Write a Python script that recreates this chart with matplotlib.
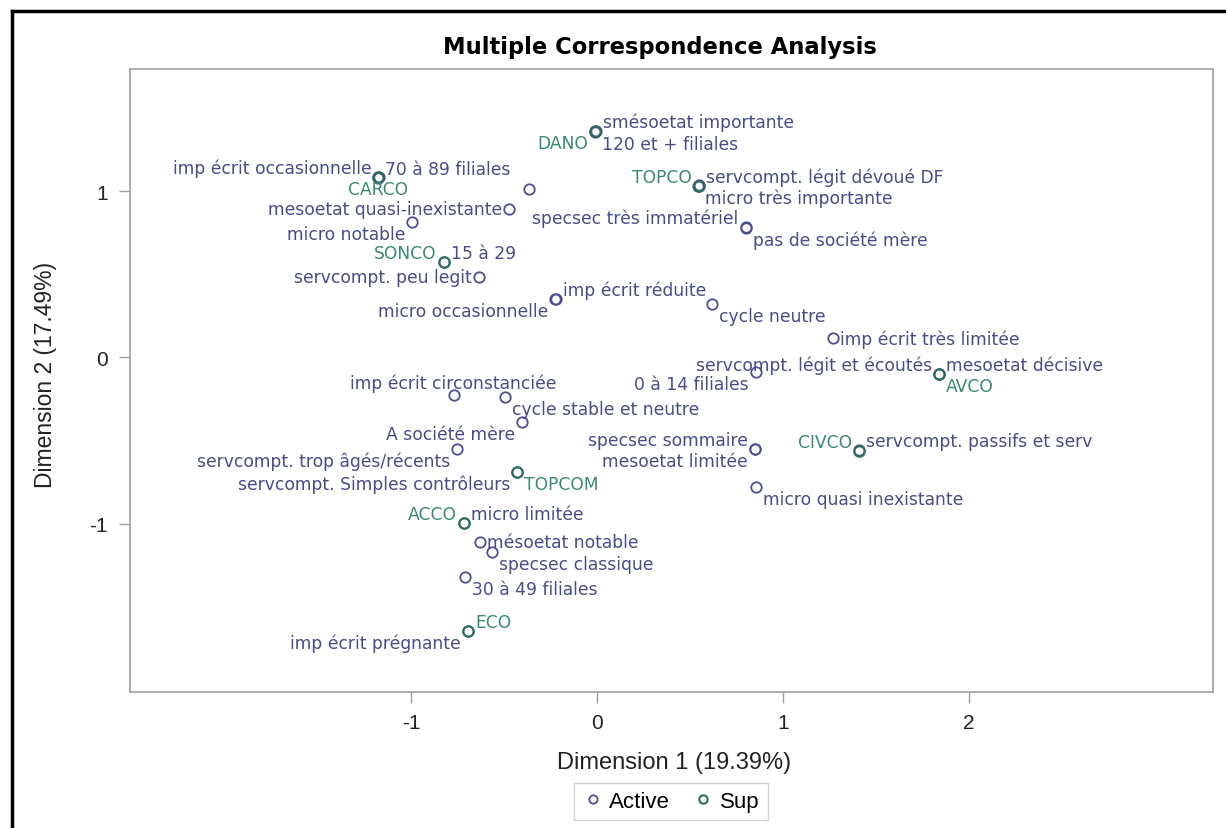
import matplotlib.pyplot as plt
from matplotlib.lines import Line2D

# Active categories (coordinates)
active_labels = [
    'smésoetat importante', '120 et + filiales',
    'imp écrit occasionnelle', '70 à 89 filiales', '',
    'mesoetat quasi-inexistante', 'micro notable', '15 à 29',
    'servcompt. peu legit', 'micro occasionnelle', 'imp écrit réduite',
    'servcompt. légit dévoué DF', 'micro très importante',
    'specsec très immatériel', 'pas de société mère', 'cycle neutre',
    'imp écrit très limitée', '0 à 14 filiales',
    'servcompt. légit et écoutés', 'mesoetat décisive',
    'imp écrit circonstanciée', 'cycle stable et neutre', 'A société mère',
    'servcompt. trop âgés/récents', 'specsec sommaire', 'mesoetat limitée',
    'servcompt. passifs et serv', 'servcompt. Simples contrôleurs',
    'micro quasi inexistante', 'micro limitée', 'mésoetat notable',
    'specsec classique', '30 à 49 filiales', 'imp écrit prégnante',
]
active_x = [-0.005, -0.012, -1.172, -1.178, -0.368, -0.475, -0.995, -0.823,
            -0.637, -0.224, -0.222, 0.549, 0.545, 0.799, 0.801, 0.619,
            1.271, 0.853, 1.837, 1.841, -0.771, -0.493, -0.403, -0.753,
            0.847, 0.849, 1.410, -0.430, 0.853, -0.715, -0.628, -0.565,
            -0.708, -0.693]
active_y = [1.362, 1.356, 1.085, 1.080, 1.012, 0.892, 0.812, 0.574,
            0.482, 0.351, 0.353, 1.034, 1.030, 0.784, 0.780, 0.321,
            0.115, -0.089, -0.097, -0.101, -0.225, -0.239, -0.389, -0.550,
            -0.548, -0.552, -0.558, -0.686, -0.780, -0.992, -1.106, -1.166,
            -1.320, -1.643]

# Supplementary categories
sup_labels = ['DANO', 'CARCO', 'SONCO', 'TOPCO', 'AVCO', 'CIVCO', 'TOPCOM',
              'ACCO', 'ECO']
sup_x = [-0.009, -1.175, -0.825, 0.547, 1.839, 1.408, -0.432, -0.717, -0.691]
sup_y = [1.360, 1.082, 0.572, 1.032, -0.099, -0.560, -0.686, -0.994, -1.641]

# where each label sits around its point
active_pos = ['ur', 'lr', 'ul', 'ur', None, 'l', 'll', 'ur', 'l', 'll', 'ur',
              'ur', 'lr', 'ul', 'lr', 'lr', 'r', 'll', 'ul', 'ur', 'uc', 'lr',
              'll', 'll', 'ul', 'll', 'ur', 'll', 'lr', 'ur', 'r', 'lr', 'lr',
              'll']
sup_pos = ['ll', 'lc', 'ul', 'ul', 'lr', 'ul', 'lr', 'ul', 'ur']

ACT = '#4d4f91'
ACT_TXT = '#4a4c88'
SUP = '#2c6e5c'
SUP_TXT = '#3a8a6e'

OFFS = {
    'ur': ((7, 9), 'left'), 'ul': ((-7, 9), 'right'),
    'lr': ((7, -12), 'left'), 'll': ((-7, -12), 'right'),
    'r': ((7, 0), 'left'), 'l': ((-7, 0), 'right'),
    'uc': ((0, 12), 'center'), 'lc': ((0, -12), 'center'),
}

fig = plt.figure(figsize=(12.26, 8.29), dpi=100)
ax = fig.add_axes([0.1060, 0.1641, 0.8834, 0.7515])

ax.plot(active_x, active_y, 'o', ms=7.5, mfc='none', mec=ACT, mew=1.3,
        label='Active')
ax.plot(sup_x, sup_y, 'o', ms=7.5, mfc='none', mec=SUP, mew=1.5,
        label='Sup')


def put_labels(labels, xs, ys, pos, color):
    for lab, x, y, p in zip(labels, xs, ys, pos):
        if not lab or p is None:
            continue
        off, ha = OFFS[p]
        ax.annotate(lab, (x, y), xytext=off, textcoords='offset pixels',
                    ha=ha, va='center', fontsize=12.3, color=color,
                    family='DejaVu Sans')


put_labels(active_labels, active_x, active_y, active_pos, ACT_TXT)
put_labels(sup_labels, sup_x, sup_y, sup_pos, SUP_TXT)

ax.set_xlim(-2.511, 3.312)
ax.set_ylim(-2.009, 1.733)
ax.set_xticks([-1, 0, 1, 2])
ax.set_yticks([-1, 0, 1])
ax.set_xticklabels(['-1', '0', '1', '2'])
ax.set_yticklabels(['-1', '0', '1'])

for s in ax.spines.values():
    s.set_color('#a0a0a0')
    s.set_linewidth(1.2)
ax.tick_params(axis='both', colors='#a0a0a0', length=8, width=1,
               labelcolor='#222222', labelsize=15)
ax.tick_params(axis='x', pad=7)
ax.tick_params(axis='y', pad=8)
for t in ax.get_xticklabels() + ax.get_yticklabels():
    t.set_family('Liberation Sans')

ax.set_xlabel('Dimension 1 (19.39%)', fontsize=17, family='Liberation Sans',
              color='#222222')
ax.set_ylabel('Dimension 2 (17.49%)', fontsize=16.5,
              family='Liberation Sans', color='#222222')
ax.xaxis.set_label_coords(0.502, -0.095)
ax.yaxis.set_label_coords(-0.067, 0.51)

fig.text(0.538, 0.943, 'Multiple Correspondence Analysis', ha='center',
         va='center', fontsize=16.3, fontweight='bold', family='DejaVu Sans')

leg = fig.legend(loc='center', bbox_to_anchor=(0.547, 0.032), ncol=2,
                 frameon=True, fancybox=False,
                 prop={'family': 'Liberation Sans', 'size': 16},
                 handletextpad=0.25, columnspacing=1.0, handlelength=1.0,
                 borderpad=0.35, markerscale=0.8)
leg.get_frame().set_edgecolor('#c8c8c8')
leg.get_frame().set_linewidth(1)

# outer frame of the screenshot (top and left only)
fig.add_artist(Line2D([11.5 / 1226, 11.5 / 1226], [0, 1 - 11.5 / 829],
                      transform=fig.transFigure, color='black', lw=2.5))
fig.add_artist(Line2D([11.5 / 1226, 1], [1 - 11.5 / 829, 1 - 11.5 / 829],
                      transform=fig.transFigure, color='black', lw=2.5))

fig.savefig('out.png', dpi=100)
